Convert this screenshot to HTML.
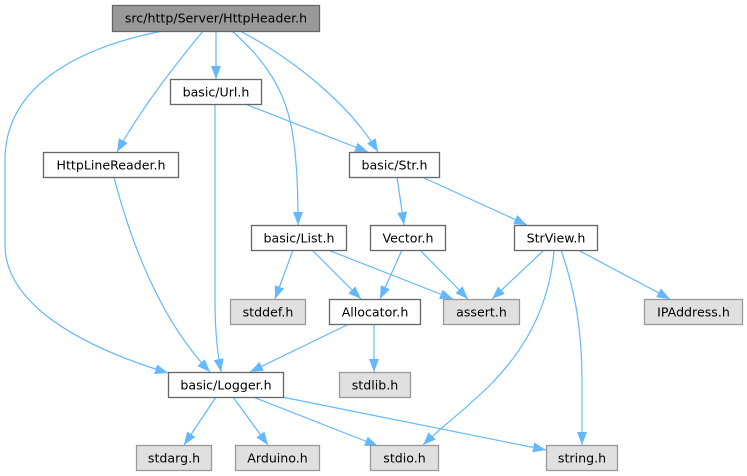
<!DOCTYPE html>
<html>
<head>
<meta charset="utf-8">
<style>
  html, body { margin: 0; padding: 0; background: #ffffff; }
  svg { display: block; }
  text { font-family: "DejaVu Sans", "Liberation Sans", sans-serif; font-size: 12.6px; fill: #000; }
</style>
</head>
<body>
<svg width="747" height="476" viewBox="0 0 747 476" xmlns="http://www.w3.org/2000/svg">
  <defs>
    <marker id="a" markerWidth="14" markerHeight="10" refX="13" refY="5" orient="auto" markerUnits="userSpaceOnUse">
      <path d="M0,0 L13,5 L0,10 z" fill="#63b8ff"/>
    </marker>
  </defs>

  <g fill="none" stroke="#63b8ff" stroke-width="1.2" marker-end="url(#a)">
    <!-- HttpHeader -> Logger -->
    <path d="M163,31 C90,45 5,80 5,160 L5,245 C5,295 60,340 168,373"/>
    <!-- HttpHeader -> HttpLineReader -->
    <path d="M203,31 C175,65 140,110 117,152"/>
    <!-- HttpHeader -> Url -->
    <path d="M216,31 L216,79"/>
    <!-- HttpHeader -> List -->
    <path d="M232,31 C265,60 285,90 292,130 C297,160 298,190 298,225"/>
    <!-- HttpHeader -> Str -->
    <path d="M240,31 C295,60 350,105 378,152"/>
    <!-- Url -> Logger -->
    <path d="M215,104 L215,300 C215,335 218,355 221,372"/>
    <!-- Url -> Str -->
    <path d="M245,104 L368,152"/>
    <!-- HttpLineReader -> Logger -->
    <path d="M114,177 C130,240 160,320 210,372"/>
    <!-- Str -> Vector -->
    <path d="M397,177 L404,225"/>
    <!-- Str -> StrView -->
    <path d="M422,177 L527,225"/>
    <!-- StrView -> assert -->
    <path d="M544,250 L492,299"/>
    <!-- StrView -> IPAddress -->
    <path d="M578,250 L670,299"/>
    <!-- StrView -> stdio -->
    <path d="M554,250 C550,300 530,345 490,385 C465,410 440,428 423,445"/>
    <!-- StrView -> string -->
    <path d="M561,250 C575,290 582,330 582,380 L582,445"/>
    <!-- Vector -> assert -->
    <path d="M420,250 L468,299"/>
    <!-- Vector -> Allocator -->
    <path d="M402,250 L380,299"/>
    <!-- List -> stddef -->
    <path d="M293,250 L275,299"/>
    <!-- List -> Allocator -->
    <path d="M312,250 L361,299"/>
    <!-- List -> assert -->
    <path d="M328,250 L453,299"/>
    <!-- Allocator -> Logger -->
    <path d="M349,324 L250,372"/>
    <!-- Allocator -> stdlib -->
    <path d="M374,324 L374,372"/>
    <!-- Logger -> stdarg -->
    <path d="M216,397 L184,445"/>
    <!-- Logger -> Arduino -->
    <path d="M233,397 L268,445"/>
    <!-- Logger -> stdio -->
    <path d="M253,397 L378,446"/>
    <!-- Logger -> string -->
    <path d="M282,397 L546,450"/>
  </g>

  <!-- Nodes -->
  <g stroke-width="1.3">
    <rect x="112.5" y="5.5" width="207" height="26" fill="#999999" stroke="#666666"/>
    <rect x="170.5" y="79.5" width="91" height="25" fill="#ffffff" stroke="#666666"/>
    <rect x="43.5" y="152.5" width="135" height="25" fill="#ffffff" stroke="#666666"/>
    <rect x="349.5" y="152.5" width="90" height="25" fill="#ffffff" stroke="#666666"/>
    <rect x="251.5" y="225.5" width="95" height="25" fill="#ffffff" stroke="#666666"/>
    <rect x="370.5" y="225.5" width="75" height="25" fill="#ffffff" stroke="#666666"/>
    <rect x="514.5" y="225.5" width="83" height="25" fill="#ffffff" stroke="#666666"/>
    <rect x="230.5" y="299.5" width="75" height="25" fill="#e0e0e0" stroke="#999999"/>
    <rect x="329.5" y="299.5" width="91" height="25" fill="#ffffff" stroke="#666666"/>
    <rect x="443.5" y="299.5" width="76" height="25" fill="#e0e0e0" stroke="#999999"/>
    <rect x="644.5" y="299.5" width="98" height="25" fill="#e0e0e0" stroke="#999999"/>
    <rect x="168.5" y="372.5" width="115" height="25" fill="#ffffff" stroke="#666666"/>
    <rect x="339.5" y="372.5" width="71" height="25" fill="#e0e0e0" stroke="#999999"/>
    <rect x="136.5" y="445.5" width="75" height="25" fill="#e0e0e0" stroke="#999999"/>
    <rect x="235.5" y="445.5" width="84" height="25" fill="#e0e0e0" stroke="#999999"/>
    <rect x="370.5" y="445.5" width="68" height="25" fill="#e0e0e0" stroke="#999999"/>
    <rect x="546.5" y="445.5" width="71" height="25" fill="#e0e0e0" stroke="#999999"/>
  </g>

  <g text-anchor="middle">
    <text x="216" y="22.5">src/http/Server/HttpHeader.h</text>
    <text x="216" y="96.5">basic/Url.h</text>
    <text x="111" y="169.5">HttpLineReader.h</text>
    <text x="394.5" y="169.5">basic/Str.h</text>
    <text x="299" y="242.5">basic/List.h</text>
    <text x="408" y="242.5">Vector.h</text>
    <text x="556" y="242.5">StrView.h</text>
    <text x="268" y="316.5">stddef.h</text>
    <text x="375" y="316.5">Allocator.h</text>
    <text x="481.5" y="316.5">assert.h</text>
    <text x="693.5" y="316.5">IPAddress.h</text>
    <text x="226" y="389.5">basic/Logger.h</text>
    <text x="375" y="389.5">stdlib.h</text>
    <text x="174" y="462.5">stdarg.h</text>
    <text x="277.5" y="462.5">Arduino.h</text>
    <text x="404.5" y="462.5">stdio.h</text>
    <text x="582" y="462.5">string.h</text>
  </g>
</svg>
</body>
</html>
